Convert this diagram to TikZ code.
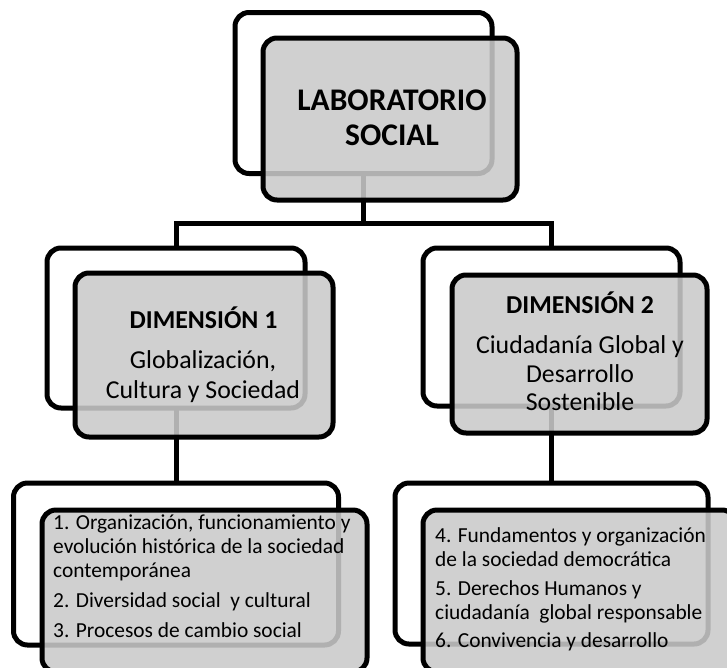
\documentclass[tikz,border=0pt]{standalone}
\usepackage{fontspec}
\setmainfont{Carlito}
\begin{document}
\begin{tikzpicture}[x=1pt,y=-1pt,
  backframe/.style={draw=black, line width=5pt, rounded corners=14pt, inner sep=0pt, outer sep=0pt},
  frontbox/.style={draw=black, line width=5pt, rounded corners=14pt, fill=black!21, fill opacity=0.88, draw opacity=1, inner sep=0pt, outer sep=0pt},
  link/.style={draw=black, line width=5pt},
  ttl/.style={font=\fontsize{31.5}{35}\selectfont\bfseries, anchor=base, inner sep=0pt},
  dhead/.style={font=\fontsize{25.8}{29}\selectfont\bfseries, anchor=base, inner sep=0pt},
  dbody/.style={font=\fontsize{25.8}{29}\selectfont, anchor=base, inner sep=0pt},
  item/.style={font=\fontsize{21.4}{24}\selectfont, anchor=base west, inner sep=0pt}
]
\useasboundingbox (0,0) rectangle (727,667);
\clip (0,0) rectangle (727,667);
% back frames
\node[backframe, minimum width=257pt, minimum height=161pt] (b0) at (363.5,93) {};
\node[backframe, minimum width=258pt, minimum height=160pt] (b1) at (176,328) {};
\node[backframe, minimum width=257pt, minimum height=158pt] (b2) at (551.5,327) {};
\node[backframe, minimum width=325pt, minimum height=162pt] (b3) at (176,564) {};
\node[backframe, minimum width=313pt, minimum height=161pt] (b4) at (551.5,563.5) {};
% connectors
\coordinate (j) at (365,223);
\draw[link] (b0.south) -- (b0.south |- j);
\draw[link] (b1.north) -- (b1.north |- j) -| (b2.north);
\draw[link] (b1.south) -- (b3.north);
\draw[link] (b2.south) -- (b4.north);
% front boxes
\node[frontbox, minimum width=254pt, minimum height=162pt] (f0) at (390,119) {};
\node[frontbox, minimum width=258pt, minimum height=164pt] (f1) at (204,355) {};
\node[frontbox, minimum width=255pt, minimum height=158pt] (f2) at (579.5,354) {};
\node[frontbox, minimum width=325pt, minimum height=162pt] (f3) at (204.5,591) {};
\node[frontbox, minimum width=313pt, minimum height=162pt] (f4) at (579.5,591) {};
% texts
\node[ttl] (t1) at (392,110) {LABORATORIO};
\node[ttl] (t2) at (392,145) {SOCIAL};
\node[dhead] (d1h) at (203.5,328) {DIMENSIÓN 1};
\node[dbody] (d1a) at (203,368) {Globalización,};
\node[dbody] (d1b) at (203,398) {Cultura y Sociedad};
\node[dhead] (d2h) at (580,313) {DIMENSIÓN 2};
\node[dbody] (d2a) at (580,353) {Ciudadanía Global y};
\node[dbody] (d2b) at (580,382) {Desarrollo};
\node[dbody] (d2c) at (580,410) {Sostenible};
\node[item] (l1) at (53,529) {1. Organización, funcionamiento y};
\node[item] (l2) at (53,553) {evolución histórica de la sociedad};
\node[item] (l3) at (53,577) {contemporánea};
\node[item] (l4) at (53,607) {2. Diversidad social\ \ y cultural};
\node[item] (l5) at (53,637) {3. Procesos de cambio social};
\node[item] (r1) at (435,542) {4. Fundamentos y organización};
\node[item] (r2) at (435,566) {de la sociedad democrática};
\node[item] (r3) at (435,595) {5. Derechos Humanos y};
\node[item] (r4) at (435,619) {ciudadanía\ \ global responsable};
\node[item] (r5) at (435,647) {6. Convivencia y desarrollo};
\end{tikzpicture}
\end{document}
